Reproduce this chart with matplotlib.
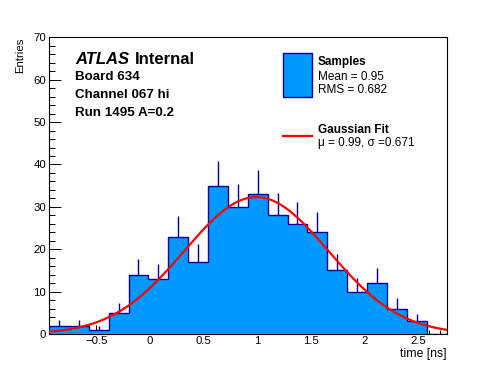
import numpy as np
import matplotlib
matplotlib.use("Agg")
import matplotlib.pyplot as plt
from matplotlib.patches import Rectangle
from matplotlib.lines import Line2D

plt.rcParams['font.family'] = ['Liberation Sans', 'DejaVu Sans']

# histogram data
x_min, x_max = -0.94, 2.76
counts = np.array([2, 2, 1, 5, 14, 13, 23, 17, 35, 30, 33, 28, 26, 24, 15, 10, 12, 6, 3, 0])
edges = np.linspace(x_min, x_max, len(counts) + 1)
centers = 0.5 * (edges[:-1] + edges[1:])

# gaussian fit
fit_amp = 32.3
fit_mu = 0.99
fit_sigma = 0.671

W, H = 496, 372
fill_col = '#0099ff'
line_col = '#000099'

def fx(x):
    return x / W

def fy(y):
    return 1 - y / H

fig = plt.figure(figsize=(W / 100, H / 100), dpi=100)
ax = fig.add_axes([fx(49), fy(334), (446.5 - 49) / W, (334 - 37.3) / H])

# error bars (upper half only visible, fill covers the rest)
nz = counts > 0
ax.vlines(centers[nz], counts[nz], counts[nz] + np.sqrt(counts[nz]),
          color=line_col, lw=1.0, zorder=2)
ax.bar(edges[:-1], counts, width=np.diff(edges), align='edge',
       color=fill_col, lw=0, zorder=3)
ax.stairs(counts, edges, color=line_col, lw=1.0, zorder=4)

xf = np.linspace(x_min, x_max, 300)
yf = fit_amp * np.exp(-(xf - fit_mu) ** 2 / (2 * fit_sigma ** 2))
ax.plot(xf, yf, color='red', lw=1.6, zorder=5)

ax.set_xlim(x_min, x_max)
ax.set_ylim(0, 70)
ax.set_xticks([-0.5, 0, 0.5, 1, 1.5, 2, 2.5])
ax.set_xticklabels(['\u22120.5', '0', '0.5', '1', '1.5', '2', '2.5'])
ax.set_xticks(np.arange(-0.9, 2.76, 0.1), minor=True)
ax.set_yticks(np.arange(0, 71, 10))
ax.set_yticks(np.arange(0, 71, 2), minor=True)
ax.tick_params(axis='x', which='major', direction='in', length=6.4, width=0.7, labelsize=8.2, pad=1.5)
ax.tick_params(axis='x', which='minor', direction='in', length=3.2, width=0.7)
ax.tick_params(axis='y', which='major', direction='in', length=8.6, width=0.7, labelsize=8.2, pad=2)
ax.tick_params(axis='y', which='minor', direction='in', length=4.5, width=0.7)
for s in ax.spines.values():
    s.set_linewidth(0.8)

fig.text(fx(20), fy(37.5), 'Entries', rotation=90, ha='center', va='top', fontsize=8.2)
fig.text(fx(446), fy(357.5), 'time [ns]', ha='right', va='baseline', fontsize=8.8)

# ATLAS label block
fig.text(fx(75), fy(64), 'ATLAS', style='italic', weight='bold', fontsize=12, va='baseline')
fig.text(fx(134.5), fy(64), 'Internal', weight='bold', fontsize=12, va='baseline')
fig.text(fx(75.3), fy(80.5), 'Board 634', weight='bold', fontsize=9.6, va='baseline')
fig.text(fx(75.3), fy(98.3), 'Channel 067 hi', weight='bold', fontsize=9.6, va='baseline')
fig.text(fx(75.3), fy(116.3), 'Run 1495 A=0.2', weight='bold', fontsize=9.6, va='baseline')

# legend
fig.patches.append(Rectangle((fx(283.3), fy(96.7)), (311.7 - 283.3) / W, (96.7 - 53.3) / H,
                             transform=fig.transFigure, facecolor=fill_col,
                             edgecolor=line_col, lw=1.0))
fig.text(fx(317.7), fy(65), 'Samples', weight='bold', fontsize=8.5, va='baseline')
fig.text(fx(317.7), fy(80), 'Mean = 0.95', fontsize=8.5, va='baseline')
fig.text(fx(317.7), fy(93.3), 'RMS = 0.682', fontsize=8.5, va='baseline')
fig.lines.append(Line2D([fx(283.3), fx(311.7)], [fy(136), fy(136)],
                        transform=fig.transFigure, color='red', lw=1.6))
fig.text(fx(317.7), fy(132.7), 'Gaussian Fit', weight='bold', fontsize=8.5, va='baseline')
fig.text(fx(317.7), fy(146), '\u03bc = 0.99, \u03c3 =0.671', fontsize=8.5, va='baseline')

fig.savefig('out.png', dpi=100)
